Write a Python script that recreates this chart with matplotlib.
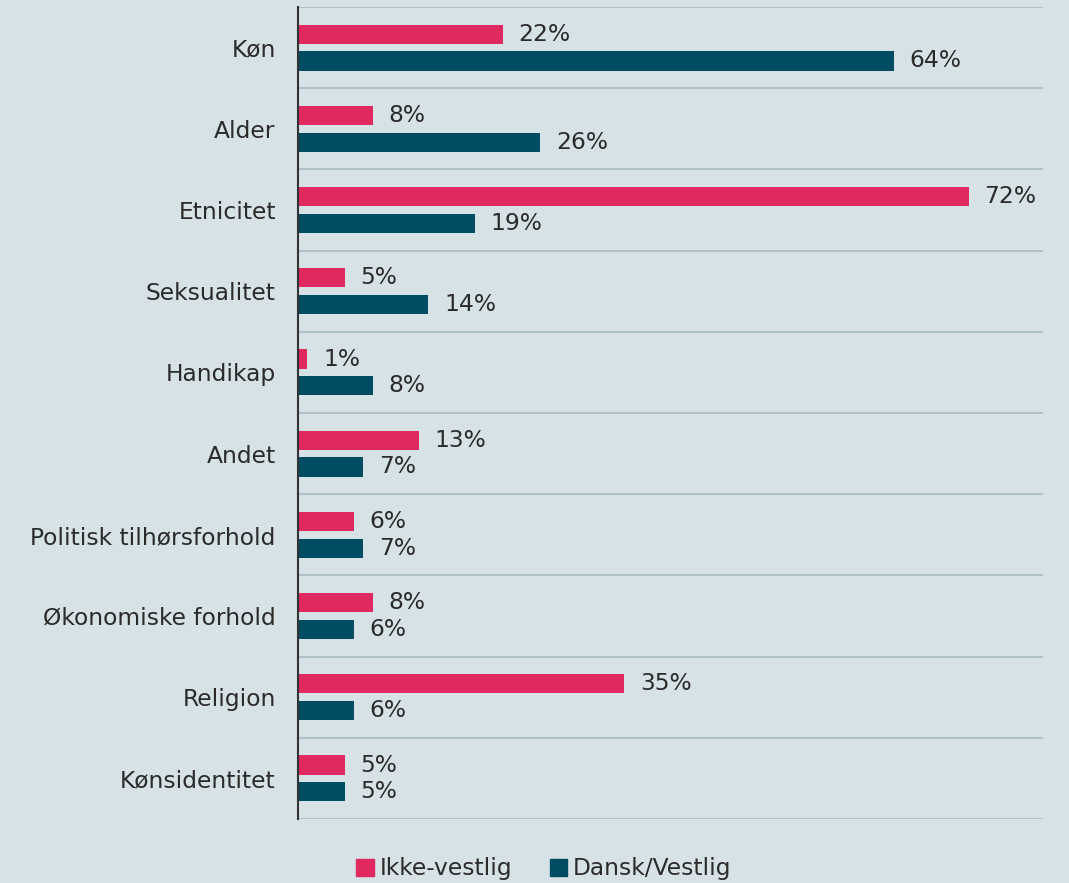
import matplotlib
matplotlib.use("Agg")
import matplotlib.pyplot as plt
import numpy as np
from matplotlib.patches import Patch

categories = ["Køn", "Alder", "Etnicitet", "Seksualitet", "Handikap", "Andet",
              "Politisk tilhørsforhold", "Økonomiske forhold", "Religion", "Kønsidentitet"]
ikke_vestlig = [22, 8, 72, 5, 1, 13, 6, 8, 35, 5]
dansk_vestlig = [64, 26, 19, 14, 8, 7, 7, 6, 6, 5]
series_names = ["Ikke-vestlig", "Dansk/Vestlig"]

pink = "#E0295E"
teal = "#004C63"
bg = "#D6E2E6"
gridc = "#A9BEC6"
textc = "#2B2B2B"

plt.rcParams['font.family'] = ['DejaVu Sans']
fs = 16.8

fig = plt.figure(figsize=(10.69, 8.83), dpi=100, facecolor=bg)
ax = fig.add_axes([298/1069, 1-819/883, (1043-298)/1069, (819-7)/883])
ax.set_facecolor(bg)

y = np.arange(len(categories))
h = 0.235
off = 0.165
ax.barh(y - off, ikke_vestlig, height=h, color=pink, zorder=3)
ax.barh(y + off, dansk_vestlig, height=h, color=teal, zorder=3)

for yi, v in zip(y, ikke_vestlig):
    ax.text(v + 1.7, yi - off, f"{v}%", va="center", ha="left", fontsize=fs, color=textc)
for yi, v in zip(y, dansk_vestlig):
    ax.text(v + 1.7, yi + off, f"{v}%", va="center", ha="left", fontsize=fs, color=textc)

ax.set_xlim(0, 80)
ax.set_ylim(len(categories) - 0.5, -0.5)
ax.set_yticks(y)
ax.set_yticklabels(categories, fontsize=fs, color=textc)
ax.tick_params(axis="y", length=0, pad=16)
ax.set_xticks([])
for b in np.arange(-0.5, len(categories) + 0.5, 1):
    ax.axhline(b, color=gridc, lw=1.3, zorder=1)
for s in ["top", "right", "bottom"]:
    ax.spines[s].set_visible(False)
ax.spines["left"].set_color("#333333")
ax.spines["left"].set_linewidth(1.5)
ax.spines["left"].set_zorder(4)

handles = [Patch(color=pink, label=series_names[0]), Patch(color=teal, label=series_names[1])]
fig.legend(handles=handles, loc="center", bbox_to_anchor=(544/1069, 1-869/883), ncol=2,
           frameon=False, fontsize=fs, handlelength=0.75, handleheight=0.75,
           handletextpad=0.25, columnspacing=1.6, labelcolor=textc)

fig.savefig("out.png", dpi=100, facecolor=bg)
